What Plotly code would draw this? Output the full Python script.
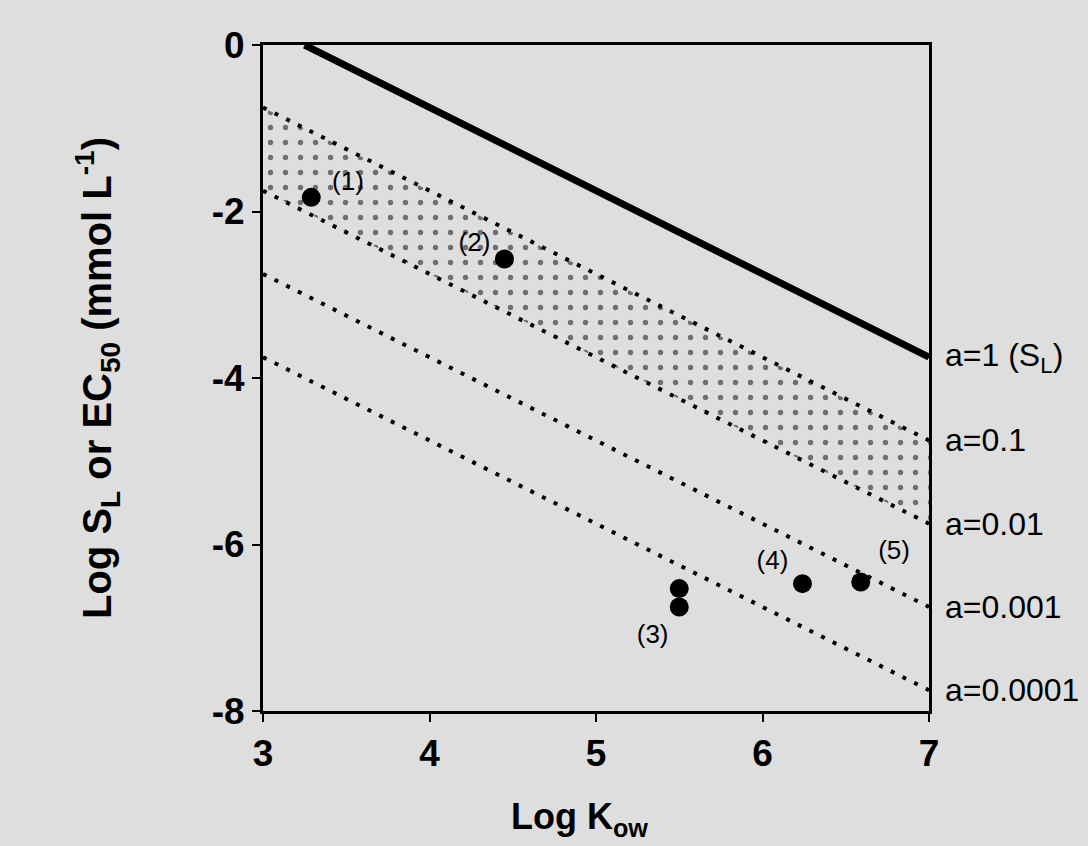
import plotly.graph_objects as go

# Data
line_x = [3.0, 7.0]
sl_x = [3.25, 7.0]
sl_y = [0.0, -3.75]
a01_y = [-0.75, -4.75]
a001_y = [-1.75, -5.75]
a0001_y = [-2.75, -6.75]
a00001_y = [-3.75, -7.75]

pt_x = [3.29, 4.45, 5.5, 5.5, 6.24, 6.59]
pt_y = [-1.83, -2.57, -6.53, -6.75, -6.47, -6.45]

lbl_text = ["(1)", "(2)", "(3)", "(4)", "(5)"]
lbl_x = [3.51, 4.27, 5.34, 6.06, 6.79]
lbl_y = [-1.66, -2.4, -7.11, -6.22, -6.1]

right_text = ["a=1 (S<sub>L</sub>)", "a=0.1", "a=0.01", "a=0.001", "a=0.0001"]
right_y = [-3.75, -4.75, -5.75, -6.75, -7.75]

x_ticks = [3, 4, 5, 6, 7]
x_ticktext = ["3", "4", "5", "6", "7"]
y_ticks = [0, -2, -4, -6, -8]
y_ticktext = ["0", "-2", "-4", "-6", "-8"]

bg = "#dedede"
FONT = "Liberation Sans, Arial"
dot_line = dict(color="black", width=4, dash="4px,9px")

fig = go.Figure()

fig.add_trace(go.Scatter(x=line_x, y=a001_y, mode="lines", line=dot_line,
                         showlegend=False, hoverinfo="skip"))
fig.add_trace(go.Scatter(x=line_x, y=a01_y, mode="lines", line=dot_line,
                         fill="tonexty", fillcolor=bg,
                         fillpattern=dict(shape=".", fgcolor="black", bgcolor=bg,
                                          size=15, solidity=0.1, fillmode="overlay"),
                         showlegend=False, hoverinfo="skip"))
for yy in [a0001_y, a00001_y]:
    fig.add_trace(go.Scatter(x=line_x, y=yy, mode="lines", line=dot_line,
                             showlegend=False, hoverinfo="skip"))
fig.add_trace(go.Scatter(x=sl_x, y=sl_y, mode="lines",
                         line=dict(color="black", width=7),
                         showlegend=False, hoverinfo="skip"))
fig.add_trace(go.Scatter(x=pt_x, y=pt_y, mode="markers",
                         marker=dict(color="black", size=19),
                         showlegend=False))
fig.add_trace(go.Scatter(x=lbl_x, y=lbl_y, mode="text", text=lbl_text,
                         textfont=dict(family=FONT, size=26, color="black"),
                         showlegend=False))

for t, yy in zip(right_text, right_y):
    fig.add_annotation(x=7, y=yy, xref="x", yref="y", text=t, showarrow=False,
                       xanchor="left", yanchor="middle", xshift=14,
                       font=dict(family=FONT, size=32, color="black"))

# x-axis title (slightly left of centre, as in the reference)
fig.add_annotation(x=0.5, y=0, xref="paper", yref="paper",
                   text="<b>Log K<sub>ow</sub></b>", showarrow=False,
                   xanchor="center", yanchor="middle", xshift=-17, yshift=-108,
                   font=dict(family=FONT, size=36, color="black"))

axis_common = dict(showgrid=False, zeroline=False, showline=True, linecolor="black",
                   linewidth=3, mirror=True, ticks="outside", ticklen=8, tickwidth=2,
                   tickcolor="black",
                   tickfont=dict(family=FONT, size=37, color="black"))

fig.update_xaxes(range=[3, 7], tickvals=x_ticks,
                 ticktext=["<b>%s</b>" % t for t in x_ticktext], **axis_common)
fig.update_yaxes(range=[-8, 0], tickvals=y_ticks,
                 ticktext=["<b>%s</b>" % t for t in y_ticktext], **axis_common,
                 title=dict(text="<b>Log S<sub>L</sub> or EC<sub>50</sub> (mmol L<sup>-1</sup>)</b>",
                            standoff=88,
                            font=dict(family=FONT, size=40, color="black")))

fig.update_layout(width=1088, height=846,
                  margin=dict(l=263, r=159, t=45, b=135),
                  paper_bgcolor=bg, plot_bgcolor=bg, showlegend=False)

fig.write_html("out.html", config={"displayModeBar": False},
               post_script="document.body.style.margin='0';"
                           "document.body.style.background='%s';" % bg)
